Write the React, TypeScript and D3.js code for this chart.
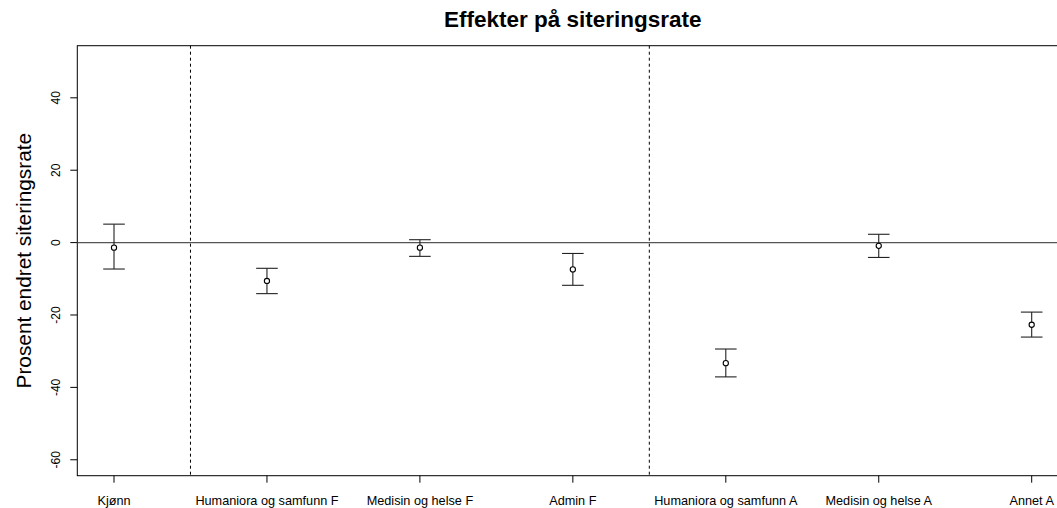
import React from "react";
import * as d3 from "d3";

const categories = [
  "Kjønn",
  "Humaniora og samfunn F",
  "Medisin og helse F",
  "Admin F",
  "Humaniora og samfunn A",
  "Medisin og helse A",
  "Annet A",
];
const estimates = [-1.4, -10.6, -1.4, -7.4, -33.3, -0.9, -22.7];
const lowers = [-7.3, -14.1, -3.8, -11.8, -37.1, -4.1, -26.1];
const uppers = [5.1, -7.1, 0.8, -3.0, -29.4, 2.3, -19.2];
const yTicks = [-60, -40, -20, 0, 20, 40];
const separators = [1.5, 4.5];

const W = 1057;
const H = 508;
const left = 77.3;
const right = 1068.4;
const top = 45.7;
const bottom = 475.7;
const font = "'Liberation Sans', Arial, Helvetica, sans-serif";

export default function App() {
  const x = d3.scaleLinear().domain([0.76, 7.24]).range([left, right]);
  const y = d3.scaleLinear().domain([-64.4, 54.4]).range([bottom, top]);
  const cap = 10.8;
  return (
    <svg
      width={W}
      height={H}
      style={{ position: "absolute", left: 0, top: 0, background: "#fff" }}
      fontFamily={font}
    >
      <rect x={0} y={0} width={W} height={H} fill="#fff" />
      {/* title */}
      <text
        x={(left + right) / 2}
        y={26.5}
        textAnchor="middle"
        fontWeight="bold"
        fontSize={22.5}
        fill="#000"
      >
        Effekter på siteringsrate
      </text>
      {/* y label */}
      <text
        transform={`translate(30.5,${(top + bottom) / 2}) rotate(-90)`}
        textAnchor="middle"
        fontSize={20.8}
        fill="#000"
      >
        Prosent endret siteringsrate
      </text>
      {/* box */}
      <rect
        x={left}
        y={top}
        width={right - left}
        height={bottom - top}
        fill="none"
        stroke="#000"
        strokeWidth={1}
      />
      {/* zero line */}
      <line x1={left} x2={W} y1={y(0)} y2={y(0)} stroke="#555" strokeWidth={1.2} />
      {/* separators */}
      {separators.map((s, i) => (
        <line
          key={i}
          x1={x(s)}
          x2={x(s)}
          y1={top}
          y2={bottom}
          stroke="#000"
          strokeWidth={1}
          strokeDasharray="3,3"
        />
      ))}
      {/* y axis */}
      {yTicks.map((t) => (
        <g key={t}>
          <line x1={left - 7} x2={left} y1={y(t)} y2={y(t)} stroke="#000" />
          <text
            transform={`translate(59.5,${y(t)}) rotate(-90)`}
            textAnchor="middle"
            fontSize={12}
            fill="#000"
          >
            {t}
          </text>
        </g>
      ))}
      {/* x axis */}
      {categories.map((c, i) => (
        <g key={c}>
          <line x1={x(i + 1)} x2={x(i + 1)} y1={bottom} y2={bottom + 7} stroke="#000" />
          <text x={x(i + 1)} y={504.5} textAnchor="middle" fontSize={12.7} fill="#000">
            {c}
          </text>
        </g>
      ))}
      {/* error bars */}
      {categories.map((c, i) => {
        const cx = x(i + 1);
        return (
          <g key={"e" + c} stroke="#222" strokeWidth={1.1} fill="none">
            <line x1={cx} x2={cx} y1={y(lowers[i])} y2={y(uppers[i])} />
            <line x1={cx - cap} x2={cx + cap} y1={y(lowers[i])} y2={y(lowers[i])} />
            <line x1={cx - cap} x2={cx + cap} y1={y(uppers[i])} y2={y(uppers[i])} />
            <circle cx={cx} cy={y(estimates[i])} r={2.6} fill="#fff" stroke="#000" />
          </g>
        );
      })}
    </svg>
  );
}
